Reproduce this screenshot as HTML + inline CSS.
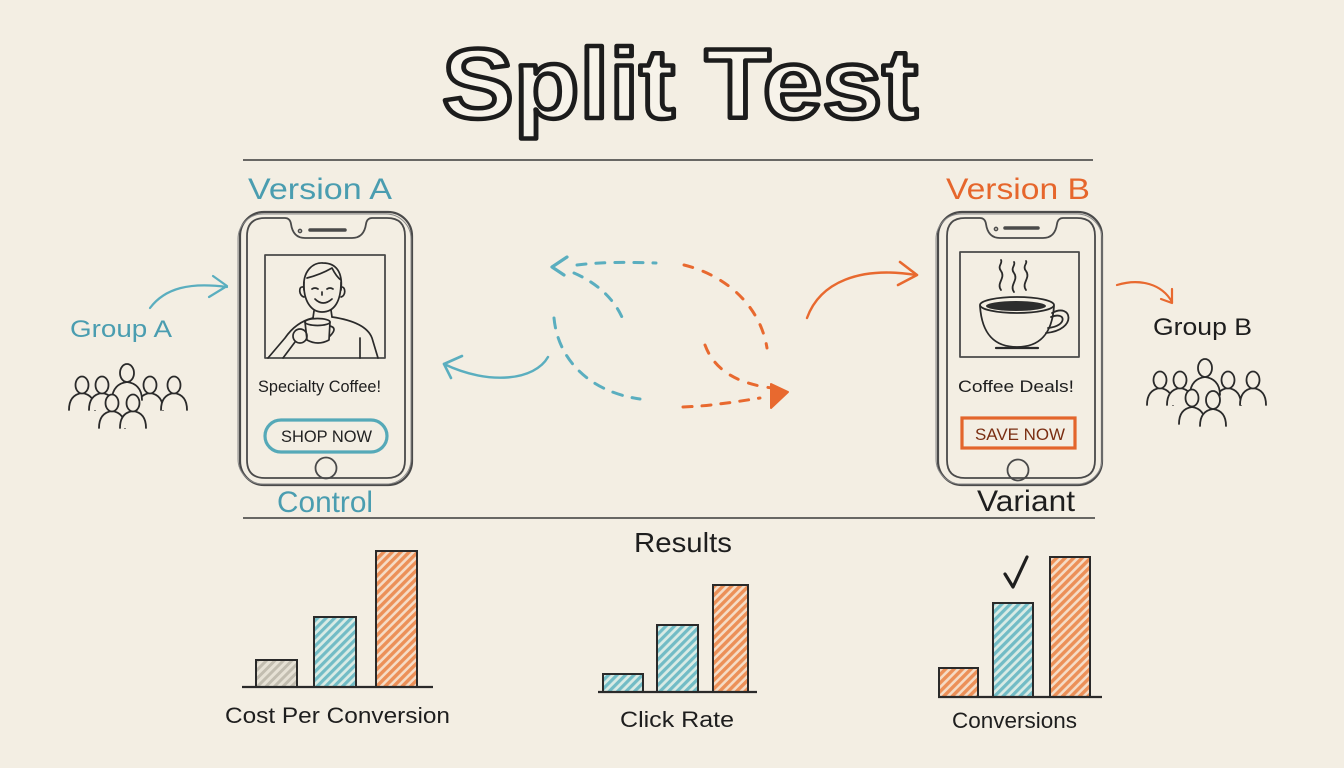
<!DOCTYPE html>
<html>
<head>
<meta charset="utf-8">
<style>
html,body{margin:0;padding:0;background:#f3eee3;}
svg{display:block;}
text{font-family:"Liberation Sans",sans-serif;}
</style>
</head>
<body>
<svg width="1344" height="768" viewBox="0 0 1344 768" xmlns="http://www.w3.org/2000/svg">
<defs>
  <pattern id="hT" width="6" height="6" patternUnits="userSpaceOnUse" patternTransform="rotate(45)">
    <rect width="6" height="6" fill="#d9ebe5"/>
    <rect x="0" y="0" width="3.2" height="6" fill="#72bcc6"/>
  </pattern>
  <pattern id="hO" width="6" height="6" patternUnits="userSpaceOnUse" patternTransform="rotate(45)">
    <rect width="6" height="6" fill="#f5dcc6"/>
    <rect x="0" y="0" width="3.4" height="6" fill="#ec9058"/>
  </pattern>
  <pattern id="hG" width="6" height="6" patternUnits="userSpaceOnUse" patternTransform="rotate(45)">
    <rect width="6" height="6" fill="#e6e1d5"/>
    <rect x="0" y="0" width="3" height="6" fill="#c2bdb0"/>
  </pattern>
</defs>

<rect width="1344" height="768" fill="#f3eee3"/>

<!-- Title -->
<text x="442" y="118" font-size="99" font-weight="bold" textLength="476" lengthAdjust="spacingAndGlyphs" fill="#f7f3ea" stroke="#1c1c1c" stroke-width="4.5" stroke-linejoin="round">Split Test</text>

<!-- separator lines -->
<line x1="243" y1="160" x2="1093" y2="160" stroke="#3a3a3a" stroke-width="1.6"/>
<line x1="243" y1="518" x2="1095" y2="518" stroke="#3a3a3a" stroke-width="1.6"/>

<!-- Version labels -->
<text x="248" y="199" font-size="30" fill="#4a9db0" textLength="144" lengthAdjust="spacingAndGlyphs">Version A</text>
<text x="946" y="199" font-size="30" fill="#e6662c" textLength="144" lengthAdjust="spacingAndGlyphs">Version B</text>

<!-- Phone A -->
<g fill="none" stroke="#4a4a4a" stroke-linejoin="round">
  <rect x="240" y="212" width="172" height="273" rx="24" stroke-width="2.2"/>
  <rect x="238" y="214" width="173" height="270" rx="25" stroke-width="1" stroke="#888"/>
  <path d="M265,218 L285,218 Q290,218 291,224 Q293,238 305,238 L352,238 Q364,238 366,224 Q367,218 372,218 L387,218 Q405,218 405,236 L405,460 Q405,478 387,478 L265,478 Q247,478 247,460 L247,236 Q247,218 265,218 Z" stroke-width="1.8"/>
  <line x1="310" y1="230" x2="345" y2="230" stroke-width="3.5" stroke-linecap="round"/>
  <circle cx="300" cy="231" r="1.6" stroke-width="1.5"/>
  <rect x="265" y="255" width="120" height="103" stroke-width="1.8"/>
  <circle cx="326" cy="468" r="10.5" stroke-width="1.8"/>
</g>
<!-- man -->
<g fill="none" stroke="#2a2a2a" stroke-width="1.7" stroke-linecap="round" stroke-linejoin="round">
  <path d="M304,290 C302,270 314,262 323,263 C336,263 343,272 341,290"/>
  <path d="M304,282 C303,302 312,312 322,312 C334,312 341,302 341,282"/>
  <path d="M307,278 C315,276 325,272 332,268 C335,274 338,278 341,280"/>
  <path d="M303,287 C298,286 299,296 304,297"/>
  <path d="M341,287 C346,286 346,296 341,297"/>
  <path d="M312,289 Q315,287 318,289"/>
  <path d="M327,289 Q330,287 333,289"/>
  <path d="M322,292 L322,295"/>
  <path d="M315,299 Q323,307 332,299"/>
  <path d="M314,311 L313,318"/>
  <path d="M331,310 L332,317"/>
  <path d="M332,317 Q366,322 372,338 L378,358"/>
  <path d="M313,318 Q296,322 285,338 L268,358"/>
  <path d="M360,338 L360,358"/>
  <path d="M305,322 L307,340 Q318,346 329,340 L330,322"/>
  <ellipse cx="317.5" cy="322" rx="12.5" ry="3.5"/>
  <path d="M330,326 Q338,328 330,336"/>
  <circle cx="300" cy="336" r="7"/>
  <path d="M295,342 L283,358"/>
</g>
<text x="258" y="392" font-size="16.5" fill="#1e1e1e" textLength="123" lengthAdjust="spacingAndGlyphs">Specialty Coffee!</text>
<rect x="265" y="420" width="122" height="32" rx="16" fill="none" stroke="#55a9b8" stroke-width="3.2"/>
<text x="281" y="442" font-size="17" fill="#222" textLength="91" lengthAdjust="spacingAndGlyphs">SHOP NOW</text>
<text x="277" y="512" font-size="30" fill="#4a9db0" textLength="96" lengthAdjust="spacingAndGlyphs">Control</text>

<!-- Phone B -->
<g fill="none" stroke="#4a4a4a" stroke-linejoin="round">
  <rect x="938" y="212" width="164" height="273" rx="24" stroke-width="2.2"/>
  <rect x="936" y="214" width="166" height="270" rx="25" stroke-width="1" stroke="#888"/>
  <path d="M965,218 L980,218 Q985,218 986,224 Q988,238 1000,238 L1043,238 Q1055,238 1057,224 Q1058,218 1063,218 L1077,218 Q1095,218 1095,236 L1095,460 Q1095,478 1077,478 L965,478 Q947,478 947,460 L947,236 Q947,218 965,218 Z" stroke-width="1.8"/>
  <line x1="1005" y1="228" x2="1038" y2="228" stroke-width="3.5" stroke-linecap="round"/>
  <circle cx="996" cy="229" r="1.6" stroke-width="1.5"/>
  <rect x="960" y="252" width="119" height="105" stroke-width="1.8"/>
  <circle cx="1018" cy="470" r="10.5" stroke-width="1.8"/>
</g>
<!-- coffee cup -->
<g fill="none" stroke="#2a2a2a" stroke-width="1.8" stroke-linecap="round" stroke-linejoin="round">
  <path d="M1001,290 C996,283 1006,278 1001,271 C997,266 1003,263 1001,260"/>
  <path d="M1014,292 C1009,285 1019,280 1014,273 C1010,268 1016,265 1014,262"/>
  <path d="M1026,290 C1021,283 1031,278 1026,271 C1022,266 1028,263 1026,261"/>
  <ellipse cx="1017" cy="305" rx="37" ry="8"/>
  <path d="M980,306 C982,336 996,347 1017,347 C1038,347 1052,336 1054,306"/>
  <path d="M1052,313 C1072,302 1078,330 1046,333"/>
  <path d="M1051,317 C1066,311 1068,326 1048,328"/>
  <path d="M996,348 L1038,348" stroke-width="2.2"/>
</g>
<ellipse cx="1016" cy="306" rx="30" ry="5" fill="#2d2d2d"/>
<text x="958" y="392" font-size="17" fill="#1e1e1e" textLength="116" lengthAdjust="spacingAndGlyphs">Coffee Deals!</text>
<rect x="962" y="418" width="113" height="30" fill="none" stroke="#e3652c" stroke-width="3.2"/>
<text x="975" y="440" font-size="17" fill="#7a2e12" textLength="90" lengthAdjust="spacingAndGlyphs">SAVE NOW</text>
<text x="977" y="511" font-size="30" fill="#1e1e1e" textLength="98" lengthAdjust="spacingAndGlyphs">Variant</text>

<!-- Group A -->
<text x="70" y="337" font-size="24" fill="#4a9db0" textLength="102" lengthAdjust="spacingAndGlyphs">Group A</text>
<g fill="none" stroke="#5aaebf" stroke-width="2.2" stroke-linecap="round" stroke-linejoin="round">
  <path d="M150,308 C165,288 190,282 227,287"/>
  <path d="M213,276 L227,286 L209,297"/>
</g>
<g fill="#f3eee3" stroke="#2a2a2a" stroke-width="1.8" stroke-linecap="round">
  <path d="M69,410 C69,398 75,394 82,393 C89,394 95,398 95,410"/><ellipse cx="82" cy="385" rx="6.5" ry="8.5"/>
  <path d="M89,410 C89,398 95,394 102,393 C109,394 115,398 115,410"/><ellipse cx="102" cy="385" rx="6.5" ry="8.5"/>
  <path d="M137,410 C137,398 143,394 150,393 C157,394 163,398 163,410"/><ellipse cx="150" cy="385" rx="6.5" ry="8.5"/>
  <path d="M161,410 C161,398 167,394 174,393 C181,394 187,398 187,410"/><ellipse cx="174" cy="385" rx="6.5" ry="8.5"/>
  <path d="M112,400 C112,388 119,383 127,382 C135,383 142,388 142,400"/><ellipse cx="127" cy="373" rx="7" ry="9"/>
  <path d="M99,428 C99,416 105,412 112,411 C119,412 125,416 125,428"/><ellipse cx="112" cy="403" rx="6.5" ry="8.5"/>
  <path d="M120,428 C120,416 126,412 133,411 C140,412 146,416 146,428"/><ellipse cx="133" cy="403" rx="6.5" ry="8.5"/>
</g>

<!-- Group B -->
<text x="1153" y="335" font-size="24" fill="#1e1e1e" textLength="99" lengthAdjust="spacingAndGlyphs">Group B</text>
<g fill="none" stroke="#e8692f" stroke-width="2.2" stroke-linecap="round" stroke-linejoin="round">
  <path d="M1117,285 C1140,278 1162,284 1172,302"/>
  <path d="M1161,299 L1172,303 L1172,289"/>
</g>
<g fill="#f3eee3" stroke="#2a2a2a" stroke-width="1.8" stroke-linecap="round">
  <path d="M1147,405 C1147,393 1153,389 1160,388 C1167,389 1173,393 1173,405"/><ellipse cx="1160" cy="380" rx="6.5" ry="8.5"/>
  <path d="M1167,405 C1167,393 1173,389 1180,388 C1187,389 1193,393 1193,405"/><ellipse cx="1180" cy="380" rx="6.5" ry="8.5"/>
  <path d="M1215,405 C1215,393 1221,389 1228,388 C1235,389 1241,393 1241,405"/><ellipse cx="1228" cy="380" rx="6.5" ry="8.5"/>
  <path d="M1240,405 C1240,393 1246,389 1253,388 C1260,389 1266,393 1266,405"/><ellipse cx="1253" cy="380" rx="6.5" ry="8.5"/>
  <path d="M1190,395 C1190,383 1197,378 1205,377 C1213,378 1220,383 1220,395"/><ellipse cx="1205" cy="368" rx="7" ry="9"/>
  <path d="M1179,424 C1179,412 1185,408 1192,407 C1199,408 1205,412 1205,424"/><ellipse cx="1192" cy="398" rx="6.5" ry="8.5"/>
  <path d="M1200,426 C1200,414 1206,410 1213,409 C1220,410 1226,414 1226,426"/><ellipse cx="1213" cy="400" rx="7" ry="9"/>
</g>

<!-- Middle arrows -->
<g fill="none" stroke="#5aaebf" stroke-width="3" stroke-linecap="round" stroke-linejoin="round">
  <path d="M548,357 C535,380 490,386 444,364" stroke-width="2.4"/>
  <path d="M462,356 L444,364 L451,378" stroke-width="2.6"/>
  <path d="M552,267 L567,257 M552,267 L564,275" stroke-width="3.2"/>
  <path d="M577,265 C600,262 630,262 656,263" stroke-dasharray="9 10"/>
  <path d="M574,273 C595,282 615,298 624,322" stroke-dasharray="9 10"/>
  <path d="M554,318 C558,360 590,392 640,399" stroke-dasharray="10 10"/>
</g>
<g fill="none" stroke="#e8692f" stroke-width="3" stroke-linecap="round" stroke-linejoin="round">
  <path d="M684,265 C725,275 760,305 767,348" stroke-dasharray="9 11"/>
  <path d="M705,345 C715,372 740,384 772,388" stroke-dasharray="9 11"/>
  <path d="M683,407 C710,406 735,402 760,398" stroke-dasharray="9 10"/>
  <path d="M807,318 C820,282 860,266 916,275" stroke-width="2.4"/>
  <path d="M900,262 L917,275 L898,285" stroke-width="2.6"/>
</g>
<path d="M771,384 L788,392 L771,408 Z" fill="#e8692f" stroke="#e8692f" stroke-width="2" stroke-linejoin="round"/>

<!-- Results -->
<text x="634" y="552" font-size="28" fill="#1e1e1e" textLength="98" lengthAdjust="spacingAndGlyphs">Results</text>

<!-- Chart 1 -->
<g stroke="#2a2a2a" stroke-width="2">
  <rect x="256" y="660" width="41" height="27" fill="url(#hG)"/>
  <rect x="314" y="617" width="42" height="70" fill="url(#hT)"/>
  <rect x="376" y="551" width="41" height="136" fill="url(#hO)"/>
  <line x1="242" y1="687" x2="433" y2="687" stroke-width="2.2"/>
</g>
<text x="225" y="723" font-size="22" fill="#1e1e1e" textLength="225" lengthAdjust="spacingAndGlyphs">Cost Per Conversion</text>

<!-- Chart 2 -->
<g stroke="#2a2a2a" stroke-width="2">
  <rect x="603" y="674" width="40" height="18" fill="url(#hT)"/>
  <rect x="657" y="625" width="41" height="67" fill="url(#hT)"/>
  <rect x="713" y="585" width="35" height="107" fill="url(#hO)"/>
  <line x1="598" y1="692" x2="757" y2="692" stroke-width="2.2"/>
</g>
<text x="620" y="727" font-size="22" fill="#1e1e1e" textLength="114" lengthAdjust="spacingAndGlyphs">Click Rate</text>

<!-- Chart 3 -->
<g stroke="#2a2a2a" stroke-width="2">
  <rect x="939" y="668" width="39" height="29" fill="url(#hO)"/>
  <rect x="993" y="603" width="40" height="94" fill="url(#hT)"/>
  <rect x="1050" y="557" width="40" height="140" fill="url(#hO)"/>
  <line x1="938" y1="697" x2="1102" y2="697" stroke-width="2.2"/>
</g>
<path d="M1005,574 L1013,587 L1027,557" fill="none" stroke="#1e1e1e" stroke-width="3.2" stroke-linecap="round" stroke-linejoin="round"/>
<text x="952" y="728" font-size="22" fill="#1e1e1e" textLength="125" lengthAdjust="spacingAndGlyphs">Conversions</text>
</svg>
</body>
</html>
